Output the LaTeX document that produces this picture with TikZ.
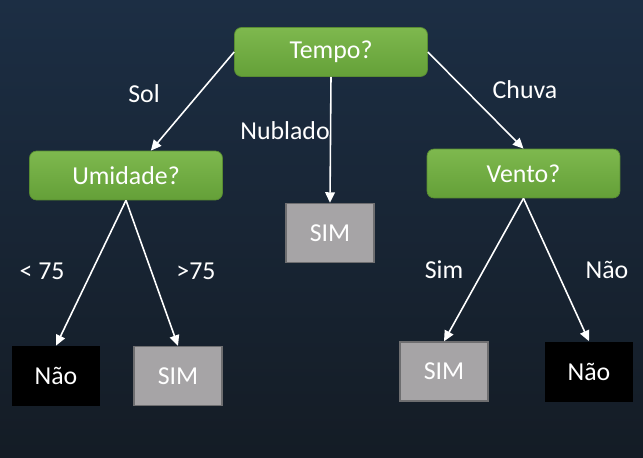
\documentclass[tikz,border=0pt]{standalone}
\usepackage{fontspec}
\setmainfont{Carlito}
\usetikzlibrary{arrows.meta,positioning}
\definecolor{bgtop}{RGB}{28,46,68}
\definecolor{bgbot}{RGB}{20,28,37}
\definecolor{greentop}{RGB}{126,184,78}
\definecolor{greenbot}{RGB}{100,160,56}
\definecolor{greenline}{RGB}{88,140,50}
\definecolor{simfill}{RGB}{166,164,166}
\definecolor{simline}{RGB}{110,110,112}

\begin{document}
\begin{tikzpicture}[x=0.02cm, y=-0.02cm, every node/.style={font=\fontsize{14.7}{16}\selectfont, text=white},
    question/.style={rounded corners=4pt, draw=greenline, top color=greentop, bottom color=greenbot, minimum width=3.86cm, minimum height=0.98cm},
    yesbox/.style={draw=simline, line width=0.8pt, fill=simfill, minimum width=1.76cm, minimum height=1.18cm},
    nobox/.style={fill=black, minimum width=1.76cm, minimum height=1.2cm},
    branch/.style={draw=white, line width=0.9pt, -{Triangle[width=5.5pt,length=6pt]}}]
    % background
    \shade[top color=bgtop, bottom color=bgbot] (0,0) rectangle (643,457);
    \useasboundingbox (0,0) rectangle (643,457);
    % questions
    \node (tempo) [question] at (331,52) {Tempo?};
    \node (umid) [question] at (126,175.5) {Umidade?};
    \node (vento) [question] at (523.5,173.5) {Vento?};
    % leaves
    \node (simmid) [yesbox] at (330,233) {SIM};
    \node (naoleft) [nobox] at (56,376) {Não};
    \node (simleft) [yesbox] at (178,376) {SIM};
    \node (simright) [yesbox] at (444,371.5) {SIM};
    \node (naoright) [nobox] at (589,371.5) {Não};
    % branches
    \draw[branch] (tempo.west) -- (umid.45);
    \draw[branch] (tempo.east) -- (vento.north);
    \draw[branch] (tempo.south) -- (simmid.north);
    \draw[branch] (umid.south) -- (naoleft.north);
    \draw[branch] (umid.south) -- (simleft.north);
    \draw[branch] (vento.south) -- (simright.north);
    \draw[branch] (vento.south) -- (naoright.north);
    % branch labels
    \node (lsol) at (144,94) {Sol};
    \node (lchuva) at (525,90) {Chuva};
    \node (lnub) at (285,131) {Nublado};
    \node (lless) at (42,271) {< 75};
    \node (lmore) at (196,271) {>75};
    \node (lsim) at (444,270) {Sim};
    \node (lnao) at (607,270) {Não};
\end{tikzpicture}
\end{document}
